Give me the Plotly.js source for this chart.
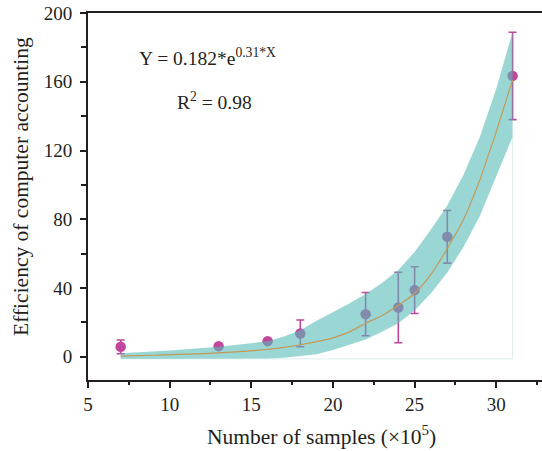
<!DOCTYPE html>
<html>
<head>
<meta charset="utf-8">
<script src="https://cdn.plot.ly/plotly-3.0.1.min.js"></script>
<style>html,body{margin:0;padding:0;background:#fff;}#chart{width:542px;height:451px;}</style>
</head>
<body>
<div id="chart"></div>
<script>
// Measured samples
var sampleX = [7, 13, 16, 18, 22, 24, 25, 27, 31];
var efficiency = [5.8, 6.2, 9.1, 13.6, 24.8, 28.7, 38.8, 69.8, 163.4];
var errSize = [4.0, 1.2, 1.2, 7.8, 12.6, 20.5, 13.6, 15.3, 25.4];

// Fitted curve
var fitX = [7, 9, 11, 13, 15, 16, 17, 18, 19, 20, 21, 22, 23, 24, 25, 26, 27, 28, 28.5, 29, 29.5, 30, 30.5, 31];
var fitY = [0.4, 0.9, 1.5, 2.3, 3.5, 4.3, 5.5, 7, 8.8, 11, 14.5, 19.5, 24, 30, 37, 48, 63, 80, 91, 103, 117, 131, 146, 161];

// Confidence band
var bandX = [7, 10, 13, 15, 16, 17, 18, 19, 20, 21, 22, 23, 24, 25, 26, 27, 28, 29, 30, 31];
var bandUpper = [2, 3.6, 5.8, 7.8, 9, 11.8, 15.5, 21, 26, 31, 36.5, 43, 50.5, 61, 74, 88, 106, 128, 156, 189];
var bandLower = [-1.2, -1.2, -1.2, -1.1, -1, -0.5, 0.5, 1.5, 4, 7, 10, 14.5, 19.5, 27, 37, 49, 64, 82, 105, 128];

// Tick labels
var xTicks = [5, 10, 15, 20, 25, 30];
var yTicks = [0, 40, 80, 120, 160, 200];

var magenta = '#c2469b';
var ink = '#231f20';
var serif = 'Liberation Serif, Times New Roman, serif';

var polyX = bandX.concat(bandX.slice().reverse());
var polyY = bandUpper.concat(bandLower.slice().reverse());

var traces = [
  {
    x: sampleX, y: efficiency, type: 'scatter', mode: 'markers',
    marker: {color: magenta, size: 10.5},
    error_y: {type: 'data', array: errSize, visible: true, color: magenta, thickness: 1.6, width: 4},
    hoverinfo: 'none', showlegend: false
  },
  {
    x: [bandX[0], bandX[bandX.length - 1], bandX[bandX.length - 1]],
    y: [bandLower[0], bandLower[0], bandLower[bandLower.length - 1]],
    type: 'scatter', mode: 'lines',
    line: {color: '#dcefee', width: 1},
    hoverinfo: 'none', showlegend: false
  },
  {
    x: polyX, y: polyY, type: 'scatter', mode: 'lines', fill: 'toself',
    fillcolor: 'rgba(85,187,183,0.6)', line: {width: 0},
    hoverinfo: 'none', showlegend: false
  },
  {
    x: fitX, y: fitY, type: 'scatter', mode: 'lines', line: {color: '#c39a58', width: 1.2, shape: 'spline'},
    hoverinfo: 'none', showlegend: false
  }
];

var layout = {
  width: 542, height: 451,
  margin: {l: 88, r: 0, t: 13, b: 71},
  paper_bgcolor: '#ffffff', plot_bgcolor: '#ffffff',
  font: {family: serif, size: 19, color: ink},
  showlegend: false,
  xaxis: {
    range: [5, 32.8], tickvals: xTicks, ticktext: xTicks.map(String),
    showgrid: false, zeroline: false,
    showline: true, linecolor: ink, linewidth: 2, mirror: true,
    ticks: 'outside', ticklen: 6, tickwidth: 2, tickcolor: ink,
    minor: {dtick: 2.5, tick0: 5, ticks: 'outside', ticklen: 3, tickwidth: 2, tickcolor: ink},
    tickfont: {family: serif, size: 19, color: ink}
  },
  yaxis: {
    range: [-13.5, 200], tickvals: yTicks, ticktext: yTicks.map(String),
    showgrid: false, zeroline: false,
    showline: true, linecolor: ink, linewidth: 2,
    ticks: 'outside', ticklen: 6, tickwidth: 2, tickcolor: ink,
    minor: {dtick: 20, tick0: 0, ticks: 'outside', ticklen: 5, tickwidth: 2, tickcolor: ink},
    ticklabelstandoff: 4,
    tickfont: {family: serif, size: 19, color: ink}
  },
  annotations: [
    {text: 'Y = 0.182*e<sup>0.31*X</sup>', xref: 'paper', yref: 'paper', x: 0.263, y: 0.879,
     xanchor: 'center', yanchor: 'middle',
     showarrow: false, font: {family: serif, size: 19.5, color: ink}},
    {text: 'R<sup>2</sup> = 0.98', xref: 'paper', yref: 'paper', x: 0.279, y: 0.76,
     xanchor: 'center', yanchor: 'middle',
     showarrow: false, font: {family: serif, size: 19.5, color: ink}},
    {text: 'Efficiency of computer accounting', xref: 'paper', yref: 'paper', x: -0.146, y: 0.528,
     xanchor: 'center', yanchor: 'middle',
     textangle: -90, showarrow: false, font: {family: serif, size: 21.5, color: ink}},
    {text: 'Number of samples (×10<sup>5</sup>)', xref: 'paper', yref: 'paper', x: 0.514, y: -0.152,
     xanchor: 'center', yanchor: 'middle',
     showarrow: false, font: {family: serif, size: 21.5, color: ink}}
  ]
};

Plotly.newPlot('chart', traces, layout, {displayModeBar: false, staticPlot: true});
</script>
</body>
</html>
